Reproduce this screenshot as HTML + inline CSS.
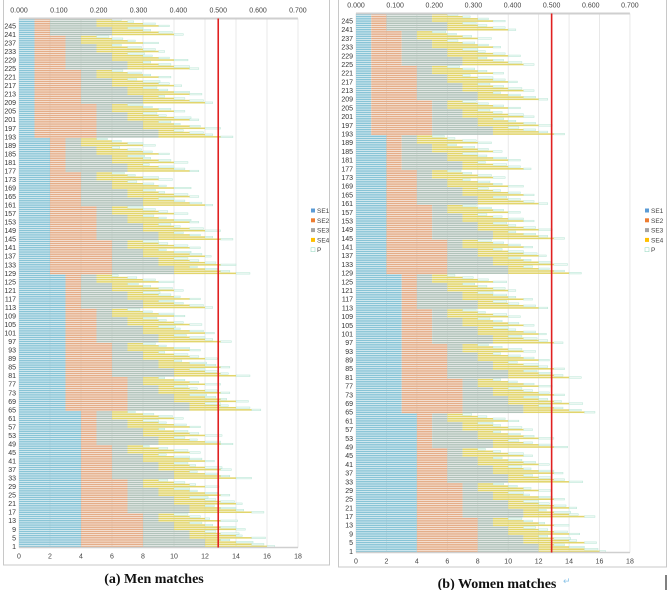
<!DOCTYPE html>
<html><head><meta charset="utf-8"><style>
html,body{margin:0;padding:0;background:#fff;width:669px;height:590px;overflow:hidden}
svg{display:block}
text{font-family:"Liberation Sans",sans-serif}
.cap{font-family:"Liberation Serif",serif;font-weight:bold;font-size:14px}
</style></head><body>
<svg id="chart" width="669" height="590" viewBox="0 0 669 590"></svg>
<script>
// rows 1..248 listed bottom to top
const rowLabels=[1,5,9,13,17,21,25,29,33,37,41,45,49,53,57,61,65,69,73,77,81,85,89,93,97,101,105,109,113,117,121,125,129,133,137,141,145,149,153,157,161,165,169,173,177,181,185,189,193,197,201,205,209,213,217,221,225,229,233,237,241,245];
const se1=[4,4,4,4,4,4,4,4,4,4,4,4,4,4,4,4,4,4,4,4,4,4,4,4,4,4,4,4,4,4,4,4,4,4,4,4,4,4,4,4,4,4,4,4,4,4,4,4,4,4,4,4,4,4,4,4,4,4,4,4,4,4,4,4,
3,3,3,3,3,3,3,3,3,3,3,3,3,3,3,3,3,3,3,3,3,3,3,3,3,3,3,3,3,3,3,3,3,3,3,3,3,3,3,3,3,3,3,3,3,3,3,3,3,3,3,3,3,3,3,3,3,3,3,3,3,3,3,3,
2,2,2,2,2,2,2,2,2,2,2,2,2,2,2,2,2,2,2,2,2,2,2,2,2,2,2,2,2,2,2,2,2,2,2,2,2,2,2,2,2,2,2,2,2,2,2,2,2,2,2,2,2,2,2,2,2,2,2,2,2,2,2,2,
1,1,1,1,1,1,1,1,1,1,1,1,1,1,1,1,1,1,1,1,1,1,1,1,1,1,1,1,1,1,1,1,1,1,1,1,1,1,1,1,1,1,1,1,1,1,1,1,1,1,1,1,1,1,1,1];
const se2=[4,4,4,4,4,4,4,4,4,4,4,4,4,4,4,4,3,3,3,3,3,3,3,3,3,3,3,3,3,3,3,3,2,2,2,2,2,2,2,2,2,2,2,2,2,2,2,2,1,1,1,1,1,1,1,1,1,1,1,1,1,1,1,1,
4,4,4,4,4,4,4,4,4,4,4,4,4,4,4,4,3,3,3,3,3,3,3,3,3,3,3,3,3,3,3,3,2,2,2,2,2,2,2,2,2,2,2,2,2,2,2,2,1,1,1,1,1,1,1,1,1,1,1,1,1,1,1,1,
4,4,4,4,4,4,4,4,4,4,4,4,4,4,4,4,3,3,3,3,3,3,3,3,3,3,3,3,3,3,3,3,2,2,2,2,2,2,2,2,2,2,2,2,2,2,2,2,1,1,1,1,1,1,1,1,1,1,1,1,1,1,1,1,
4,4,4,4,4,4,4,4,4,4,4,4,4,4,4,4,3,3,3,3,3,3,3,3,3,3,3,3,3,3,3,3,2,2,2,2,2,2,2,2,2,2,2,2,2,2,2,2,1,1,1,1,1,1,1,1];
const se3=[4,4,4,4,3,3,3,3,2,2,2,2,1,1,1,1,4,4,4,4,3,3,3,3,2,2,2,2,1,1,1,1,4,4,4,4,3,3,3,3,2,2,2,2,1,1,1,1,4,4,4,4,3,3,3,3,2,2,2,2,1,1,1,1,
4,4,4,4,3,3,3,3,2,2,2,2,1,1,1,1,4,4,4,4,3,3,3,3,2,2,2,2,1,1,1,1,4,4,4,4,3,3,3,3,2,2,2,2,1,1,1,1,4,4,4,4,3,3,3,3,2,2,2,2,1,1,1,1,
4,4,4,4,3,3,3,3,2,2,2,2,1,1,1,1,4,4,4,4,3,3,3,3,2,2,2,2,1,1,1,1,4,4,4,4,3,3,3,3,2,2,2,2,1,1,1,1,4,4,4,4,3,3,3,3,2,2,2,2,1,1,1,1,
4,4,4,4,3,3,3,3,2,2,2,2,1,1,1,1,4,4,4,4,3,3,3,3,2,2,2,2,1,1,1,1,4,4,4,4,3,3,3,3,2,2,2,2,1,1,1,1,4,4,4,4,3,3,3,3];
const se4=[4,3,2,1,4,3,2,1,4,3,2,1,4,3,2,1,4,3,2,1,4,3,2,1,4,3,2,1,4,3,2,1,4,3,2,1,4,3,2,1,4,3,2,1,4,3,2,1,4,3,2,1,4,3,2,1,4,3,2,1,4,3,2,1,
4,3,2,1,4,3,2,1,4,3,2,1,4,3,2,1,4,3,2,1,4,3,2,1,4,3,2,1,4,3,2,1,4,3,2,1,4,3,2,1,4,3,2,1,4,3,2,1,4,3,2,1,4,3,2,1,4,3,2,1,4,3,2,1,
4,3,2,1,4,3,2,1,4,3,2,1,4,3,2,1,4,3,2,1,4,3,2,1,4,3,2,1,4,3,2,1,4,3,2,1,4,3,2,1,4,3,2,1,4,3,2,1,4,3,2,1,4,3,2,1,4,3,2,1,4,3,2,1,
4,3,2,1,4,3,2,1,4,3,2,1,4,3,2,1,4,3,2,1,4,3,2,1,4,3,2,1,4,3,2,1,4,3,2,1,4,3,2,1,4,3,2,1,4,3,2,1,4,3,2,1,4,3,2,1];
const pMen=[0.5,0.8,1.1,0.6,0.9,0.4,1.2,0.7,0.6,1.0,0.5,0.8,1.1,0.3,0.7,0.9,0.8,0.5,1.0,0.6,0.4,0.9,0.7,1.2,0.6,0.8,0.5,1.0,0.9,0.4,0.7,0.6,
1.0,0.6,0.8,0.5,0.7,1.1,0.4,0.9,0.6,0.8,1.0,0.5,0.7,0.9,0.6,0.4,0.8,1.0,0.5,0.7,1.1,0.6,0.9,0.4,0.7,0.8,0.5,1.0,0.6,0.9,0.7,0.5,
0.6,0.9,0.5,1.0,0.8,0.4,0.7,1.1,0.6,0.8,0.5,0.9,1.0,0.6,0.7,0.4,0.9,0.5,0.8,1.0,0.6,0.7,1.1,0.5,0.8,0.6,0.9,0.4,0.7,1.0,0.5,0.8,
0.7,0.5,1.0,0.8,0.6,0.9,0.4,1.1,0.8,0.6,0.5,0.9,0.7,1.0,0.6,0.8,0.5,0.9,0.6,1.0,0.7,0.4,0.8,1.1,0.6,0.9,0.5,0.7,1.0,0.8,0.6,0.4,
0.9,0.6,0.8,0.5,1.0,0.7,0.6,0.9,0.4,0.8,1.1,0.5,0.7,0.9,0.6,1.0,0.8,0.5,0.7,0.6,1.0,0.9,0.4,0.8,0.6,1.1,0.5,0.7,0.9,0.6,0.8,1.0,
0.5,0.8,0.7,1.0,0.6,0.9,0.4,0.8,1.1,0.5,0.7,0.6,0.9,1.0,0.5,0.8,0.6,0.7,1.0,0.4,0.9,0.8,0.5,1.1,0.7,0.6,0.9,0.5,0.8,1.0,0.6,0.7,
0.8,0.5,0.9,0.6,1.0,0.7,0.4,0.8,0.6,1.1,0.5,0.9,0.7,0.8,0.6,1.0,0.5,0.9,0.7,0.4,0.8,1.0,0.6,0.9,0.5,0.7,1.1,0.6,0.8,0.5,0.9,0.7,
0.6,1.0,0.8,0.5,0.9,0.7,0.6,1.1,0.4,0.8,0.9,0.6,1.0,0.5,0.7,0.8,0.6,0.9,0.5,1.0,0.7,0.8,0.4,0.6];
const pWomen=[0.4,0.9,1.0,0.7,0.8,0.5,1.1,0.6,0.7,0.9,0.6,0.8,1.0,0.4,0.6,0.9,0.7,0.6,1.1,0.5,0.5,0.8,0.7,1.0,0.7,0.9,0.4,1.0,0.8,0.5,0.6,0.7,
0.9,0.7,0.8,0.6,0.6,1.0,0.5,0.9,0.7,0.8,0.9,0.6,0.6,1.0,0.5,0.5,0.9,0.9,0.6,0.7,1.0,0.7,0.8,0.5,0.6,0.9,0.5,1.0,0.7,0.8,0.6,0.6,
0.7,0.8,0.6,0.9,0.9,0.5,0.6,1.0,0.7,0.7,0.6,0.9,0.9,0.7,0.6,0.5,0.8,0.6,0.9,0.9,0.7,0.6,1.0,0.6,0.7,0.7,0.8,0.5,0.8,0.9,0.6,0.7,
0.6,0.6,0.9,0.9,0.5,0.8,0.5,1.0,0.7,0.7,0.6,0.8,0.8,0.9,0.5,0.9,0.6,0.8,0.7,0.9,0.6,0.5,0.9,1.0,0.5,0.8,0.6,0.8,0.9,0.7,0.7,0.5,
0.8,0.7,0.7,0.6,0.9,0.8,0.5,0.8,0.5,0.9,1.0,0.6,0.6,0.8,0.7,0.9,0.7,0.6,0.8,0.5,0.9,0.8,0.5,0.9,0.7,1.0,0.6,0.6,0.8,0.7,0.9,0.9,
0.6,0.7,0.8,0.9,0.7,0.8,0.5,0.7,1.0,0.6,0.8,0.5,0.8,0.9,0.6,0.9,0.5,0.8,0.9,0.5,0.8,0.9,0.6,1.0,0.6,0.7,0.8,0.6,0.9,0.9,0.5,0.8,
0.7,0.6,0.8,0.7,0.9,0.8,0.5,0.7,0.7,1.0,0.6,0.8,0.8,0.7,0.7,0.9,0.6,0.8,0.8,0.5,0.7,0.9,0.7,0.8,0.6,0.8,1.0,0.5,0.7,0.6,0.8,0.8,
0.7,0.9,0.7,0.6,0.8,0.8,0.5,1.0,0.5,0.7,0.8,0.7,0.9,0.6,0.6,0.9,0.5,0.8,0.6,0.9,0.8,0.7,0.5,0.7];
const bottomTicks=[0,2,4,6,8,10,12,14,16,18];
const topTicks=["0.000","0.100","0.200","0.300","0.400","0.500","0.600","0.700"];
const thresholdTop=0.5;
const seriesNames=["SE1","SE2","SE3","SE4","P"];

const NS="http://www.w3.org/2000/svg";
const svg=document.getElementById('chart');
function mk(tag,attrs,parent){const e=document.createElementNS(NS,tag);for(const k in attrs)e.setAttribute(k,attrs[k]);(parent||svg).appendChild(e);return e;}
const colors=["#88c4d6","#e4ad88","#b2c3ba","#e2d56c"];

function panel(cfg){
  const g=mk('g',{});
  
  
  const border=mk('rect',{x:cfg.bx,y:cfg.by,width:cfg.bw,height:cfg.bh,fill:'none',stroke:'#c8c8c8','stroke-width':1},g);
  
  
  const x=v=>cfg.x0+v*cfg.ux;
  const xt=v=>cfg.x0+v*cfg.ux/0.0389;
  const rowH=(cfg.yBot-cfg.yTop)/248;
  const yRow=i=>cfg.yBot-(i+1)*rowH;
  bottomTicks.forEach(t=>{
    const l=mk('line',{x1:x(t),x2:x(t),y1:cfg.yTop,y2:cfg.yBot,stroke:'#e3e3e3','stroke-width':0.8},g);
    
    
  });
  const n=se1.length;
  for(let i=0;i<n;i++){
    const vals=[se1[i],se2[i],se3[i],se4[i]];
    let acc=0;
    const y=yRow(i)+0.25, h=rowH-0.6;
    const tot=vals.reduce((a,b)=>a+b,0);
    const pr=mk('rect',{x:x(tot),y:y,width:cfg.p[i]*cfg.ux,height:h,fill:'#eef9f4',stroke:'#b9e6d6','stroke-width':0.5},g);
    
    
    vals.forEach((v,k)=>{
      const r=mk('rect',{x:x(acc),y:y,width:v*cfg.ux,height:h,fill:colors[k]},g);
      
      
      acc+=v;
    });
  }
  rowLabels.forEach(lbl=>{
    const t=mk('text',{x:cfg.x0-3,y:yRow(lbl-1)+rowH/2+2.4,'font-size':7,'text-anchor':'end',fill:'#333'},g);
    t.textContent=lbl;
    
    
  });
  const ta=mk('line',{x1:cfg.x0,x2:xt(0.7),y1:cfg.yTop,y2:cfg.yTop,stroke:'#cfcfcf','stroke-width':2},g);
  
  
  topTicks.forEach(s=>{
    const t=mk('text',{x:xt(parseFloat(s)),y:cfg.yTop-6,'font-size':7,'text-anchor':'middle',fill:'#444'},g);
    t.textContent=s;
    
    
  });
  const ba=mk('line',{x1:cfg.x0,x2:x(18),y1:cfg.yBot,y2:cfg.yBot,stroke:'#cfcfcf','stroke-width':1.5},g);
  
  
  bottomTicks.forEach(v=>{
    const t=mk('text',{x:x(v),y:cfg.yBot+11,'font-size':7,'text-anchor':'middle',fill:'#444'},g);
    t.textContent=v;
    
    
  });
  const red=mk('line',{x1:xt(thresholdTop),x2:xt(thresholdTop),y1:cfg.yTop,y2:cfg.yBot,stroke:'#e02020','stroke-width':1.6},g);
  
  
  const lc=["#5b9bd5","#ed7d31","#a5a5a5","#ffc000","#fff"];
  seriesNames.forEach((s,k)=>{
    const yy=cfg.ly+k*9.8;
    const sq=mk('rect',{x:cfg.lx,y:yy-2.5,width:4,height:4,fill:lc[k],stroke:k==4?'#9fdcc6':'none','stroke-width':0.6},g);
    
    
    const t=mk('text',{x:cfg.lx+6,y:yy+2,'font-size':6.5,fill:'#444'},g);
    t.textContent=s;
    
    
  });
  const c=mk('text',{x:cfg.cx,y:cfg.cy,'text-anchor':'middle','class':'cap',fill:'#111'},g);
  c.textContent=cfg.caption;
  
  
  return c;
}
panel({name:'men-panel',bx:3.5,by:-1,bw:326,bh:566,x0:19,ux:15.5,yTop:18.5,yBot:547.5,p:pMen,lx:311,ly:211,cx:154,cy:583,caption:'(a) Men matches'});
panel({name:'women-panel',bx:338.5,by:-1,bw:328,bh:568,x0:356,ux:15.22,yTop:13.5,yBot:552.5,p:pWomen,lx:645,ly:211,cx:497,cy:588,caption:'(b) Women matches'});
const arr=mk('text',{x:563,y:584,'font-size':9,fill:'#8cc4e8'});
arr.textContent='↵';


const bar=mk('line',{x1:666,x2:666,y1:575,y2:590,stroke:'#000','stroke-width':1});


</script>
</body></html>
